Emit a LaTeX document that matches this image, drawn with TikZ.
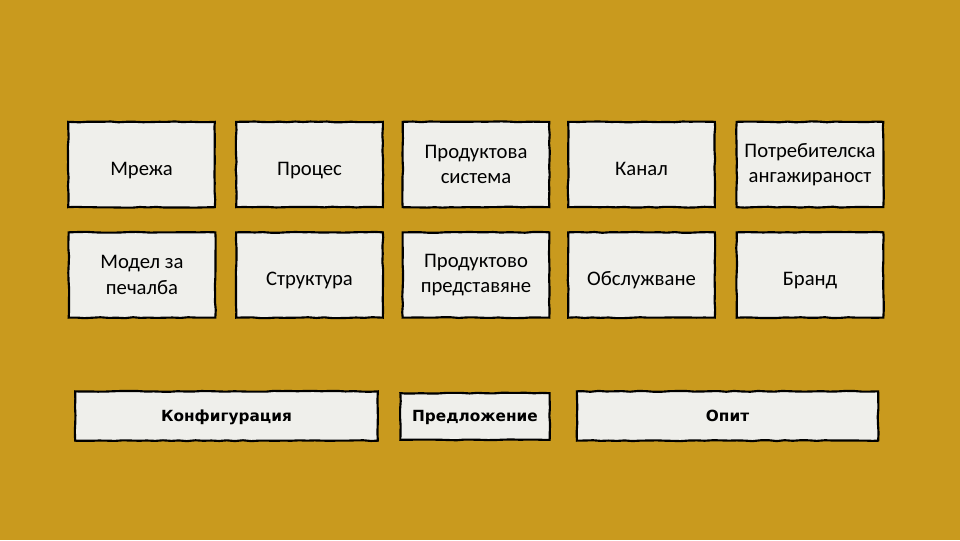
\documentclass[tikz,border=0pt]{standalone}
\usepackage{fontspec}
\setmainfont{Carlito}
\newfontfamily\barfont{DejaVu Sans}
\usetikzlibrary{decorations.pathmorphing}
\definecolor{ochre}{RGB}{201,154,30}
\definecolor{paper}{RGB}{239,239,235}
\tikzset{
  rough/.style={decorate,decoration={random steps,segment length=6pt,amplitude=0.35pt}},
  card/.style={draw=black,fill=paper,line width=1.6pt,rough,align=center,
    minimum width=110pt,minimum height=64pt,inner sep=2pt,
    font=\fontsize{15.5}{19}\selectfont},
  lone/.style={text height=19pt,text depth=3pt},
  bar/.style={draw=black,fill=paper,line width=1.6pt,rough,
    minimum height=37pt,text height=9pt,text depth=1pt,
    font=\barfont\bfseries\fontsize{11.5}{14}\selectfont}
}
\begin{document}
\begin{tikzpicture}[x=0.75pt,y=-0.75pt]
\fill[ochre] (0,0) rectangle (960,540);
\useasboundingbox (0,0) rectangle (960,540);
% upper row
\foreach \i/\x/\v in {1/141.5/Мрежа,2/309.5/Процес,4/641.5/Канал}
  \node[card,lone] (a\i) at (\x, 164.5) {\v};
\foreach \i/\x/\v in {3/476/Продуктова\\система,5/810/Потребителска\\ангажираност}
  \node[card] (a\i) at (\x, 164.5) {\v};
% lower row
\foreach \i/\x/\v in {2/309.5/Структура,4/641.5/Обслужване,5/810/Бранд}
  \node[card,lone] (b\i) at (\x, 275) {\v};
\foreach \i/\x/\v in {1/142/Модел за\\печалба,3/476/Продуктово\\представяне}
  \node[card] (b\i) at (\x, 275) {\v};
% groups
\node[bar,minimum width=227pt] (conf) at (226.5, 416) {Конфигурация};
\node[bar,minimum width=112pt,minimum height=35pt] (offer) at (475, 416.5) {Предложение};
\node[bar,minimum width=226pt] (exp) at (727.5, 416) {Опит};
\end{tikzpicture}
\end{document}
